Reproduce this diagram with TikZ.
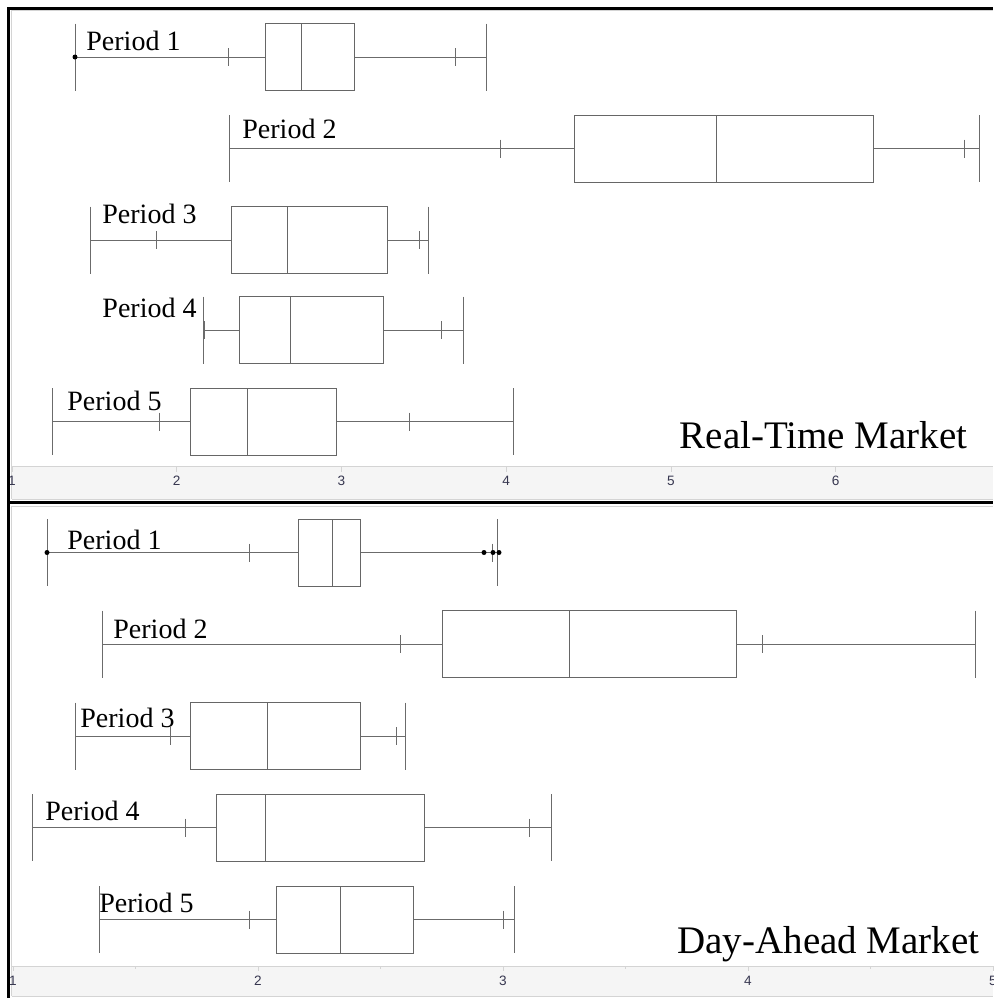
\documentclass[tikz,border=0pt]{standalone}
\usepackage{fontspec}
\setmainfont{Liberation Serif}
\newfontfamily\axisfont{Liberation Sans}
\usepackage{xcolor}
\usepackage{tikz}
\colorlet{whiskgray}{black!58}
\definecolor{bandgray}{RGB}{245,245,245}
\definecolor{bandline}{RGB}{212,212,212}
\definecolor{ticktext}{RGB}{55,55,80}

\tikzset{
    whisk/.style={whiskgray, line width=0.5pt},
    boxline/.style={black!60, line width=0.48pt},
    periodlabel/.style={anchor=base west, inner sep=0pt, font=\fontsize{14}{14}\selectfont},
    marketlabel/.style={anchor=base east, inner sep=0pt, font=\fontsize{19.5}{19.5}\selectfont},
    ticklabel/.style={inner sep=0pt, text=ticktext, font=\axisfont\fontsize{6.8}{6.8}\selectfont}
}

% y, left cap, left tick, q1, median, q3, right tick, right cap
\newcommand{\boxrow}[8]{%
    \draw[whisk] (#2,#1) -- (#4,#1) (#6,#1) -- (#8,#1);
    \draw[whisk] (#2,#1-33.5) -- (#2,#1+33.5) (#8,#1-33.5) -- (#8,#1+33.5);
    \draw[whisk] (#3,#1-9) -- (#3,#1+9) (#7,#1-9) -- (#7,#1+9);
    \draw[boxline] (#4,#1-33.5) rectangle (#6,#1+33.5);
    \draw[boxline] (#5,#1-33.5) -- (#5,#1+33.5);
}

\begin{document}
\begin{tikzpicture}[x=0.5pt, y=-0.5pt]
        \useasboundingbox (0,0) rectangle (993,998);

        % real-time panel
        \fill[bandgray] (11.5,466) rectangle (993,499);
        \draw[bandline] (11.5,499) -- (11.5,10.5) -- (993,10.5);
        \draw[bandline] (11.5,466) -- (993,466);
        \draw[bandline] (11.5,499) -- (993,499);
        \foreach \v in {1,...,6} {
            \draw[bandline] ({12+(\v-1)*164.75},466) -- ++(0,6);
            \node[ticklabel] (rtaxis\v) at ({12+(\v-1)*164.75},481) {\v};
        }

        \boxrow{57}{75}{228}{265}{301}{354}{455}{486}
        \boxrow{148.5}{229}{500}{574}{716}{873}{964}{979}
        \boxrow{240}{90}{156}{231}{287}{387}{419}{428}
        \boxrow{330}{203}{204.5}{239}{290}{383}{441}{463}
        \boxrow{421.5}{52}{159}{190}{247}{336}{409}{513}
        \fill (75,57) circle (2.5);

        \node[periodlabel] (rtone) at (86,50) {Period 1};
        \node[periodlabel] (rttwo) at (242,138) {Period 2};
        \node[periodlabel] (rtthree) at (102,223) {Period 3};
        \node[periodlabel, anchor=base east] (rtfour) at (197,317) {Period 4};
        \node[periodlabel] (rtfive) at (67,410) {Period 5};

        \node[marketlabel] (rtmarket) at (968,448) {Real-Time Market};

        %%%

        % day-ahead panel
        \fill[bandgray] (11.5,966) rectangle (993,996);
        \draw[bandline] (11.5,996) -- (11.5,506.5) -- (993,506.5);
        \draw[bandline] (11.5,966) -- (993,966);
        \draw[bandline] (11.5,996) -- (993,996);
        \foreach \v in {1,...,5} {
            \draw[bandline] ({13+(\v-1)*245},966) -- ++(0,5);
            \node[ticklabel] (daaxis\v) at ({13+(\v-1)*245},981) {\v};
        }
        \foreach \v in {1,...,4}
            \draw[bandline] ({13+(\v-0.5)*245},966) -- ++(0,3);

        \boxrow{552.5}{47}{249}{298}{332}{360}{492}{497}
        \boxrow{644}{102}{400}{442}{569}{736}{762}{975}
        \boxrow{736}{75}{170}{190}{267}{360}{396}{405}
        \boxrow{827.5}{32}{185}{216}{265}{424}{529}{551}
        \boxrow{919.5}{99}{249}{276}{340}{413}{503}{514}
        \fill (47,552.5) circle (2.5);
        \fill (484,552.5) circle (2.5);
        \fill (493,552.5) circle (2.5);
        \fill (499,552.5) circle (2.5);

        \node[periodlabel] (daone) at (67,549) {Period 1};
        \node[periodlabel] (datwo) at (113,638) {Period 2};
        \node[periodlabel] (dathree) at (80,727) {Period 3};
        \node[periodlabel] (dafour) at (45,820) {Period 4};
        \node[periodlabel] (dafive) at (99,912) {Period 5};

        \node[marketlabel] (damarket) at (980,953) {Day-Ahead Market};

        %%%

        % frame
        \draw[line width=1.5pt] (8.5,998) -- (8.5,8) -- (993,8);
        \draw[line width=1.5pt] (8.5,502.5) -- (993,502.5);
    \end{tikzpicture}
\end{document}
